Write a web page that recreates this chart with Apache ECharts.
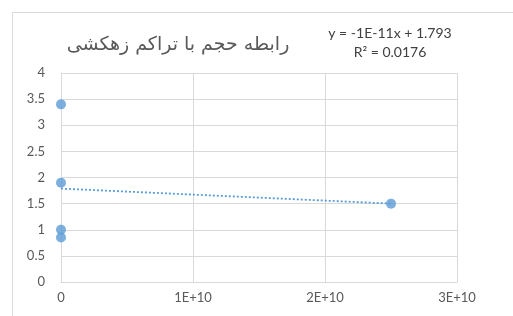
<!DOCTYPE html>
<html>
<head>
<meta charset="utf-8">
<script src="https://cdn.jsdelivr.net/npm/echarts@6/dist/echarts.min.js"></script>
<style>
  html, body { margin: 0; padding: 0; background: #fff; }
  #chart { width: 513px; height: 316px; }
</style>
</head>
<body>
<div id="chart"></div>
<script>
// volume (x) vs drainage density (y)
const volumeValues = [0, 0, 0, 0, 2.5e10]
const densityValues = [3.4, 1.9, 1.0, 0.85, 1.5]
const xTicks = [0, 1e10, 2e10, 3e10]
const yTicks = [0, 0.5, 1, 1.5, 2, 2.5, 3, 3.5, 4]
const titleText = 'رابطه حجم با تراکم زهکشی'
const equationText = 'y = -1E-11x + 1.793'
const r2Text = 'R² = 0.0176'

const points = volumeValues.map((v, i) => [v, densityValues[i]])

// least squares trend line from the points
const n = points.length
const mx = volumeValues.reduce((a, b) => a + b, 0) / n
const my = densityValues.reduce((a, b) => a + b, 0) / n
let sxy = 0
let sxx = 0
points.forEach(([x, y]) => {
  sxy += (x - mx) * (y - my)
  sxx += (x - mx) * (x - mx)
})
const slope = sxy / sxx
const intercept = my - slope * mx
const xMin = Math.min(...volumeValues)
const xMax = Math.max(...volumeValues)
const trend = [[xMin, intercept + slope * xMin], [xMax, intercept + slope * xMax]]

const formatSci = (v) => {
  if (v === 0) return '0'
  const e = Math.floor(Math.log10(Math.abs(v)))
  const m = Math.round(v / Math.pow(10, e))
  return `${m}E+${e}`
}

const chart = echarts.init(document.getElementById('chart'))
chart.setOption({
  animation: false,
  textStyle: { fontFamily: 'Lato, "Open Sans", sans-serif' },
  graphic: [
    {
      type: 'rect',
      shape: { x: 12.5, y: 12.5, width: 600, height: 400 },
      style: { fill: 'none', stroke: '#d9d9d9', lineWidth: 1 },
      silent: true
    },
    {
      type: 'text',
      x: 178,
      y: 45,
      style: {
        text: titleText,
        fontFamily: '"DejaVu Sans", sans-serif',
        fontSize: 19,
        fill: '#595959',
        align: 'center',
        verticalAlign: 'middle'
      }
    },
    {
      type: 'text',
      x: 390,
      y: 33,
      style: {
        text: equationText,
        fontFamily: 'Lato, "Open Sans", sans-serif',
        fontSize: 14,
        fill: '#404040',
        align: 'center',
        verticalAlign: 'middle'
      }
    },
    {
      type: 'text',
      x: 390,
      y: 52,
      style: {
        text: r2Text,
        fontFamily: 'Lato, "Open Sans", sans-serif',
        fontSize: 14,
        fill: '#404040',
        align: 'center',
        verticalAlign: 'middle'
      }
    }
  ],
  grid: { left: 61, right: 56, top: 73, bottom: 34 },
  xAxis: {
    type: 'value',
    min: xTicks[0],
    max: xTicks[xTicks.length - 1],
    interval: xTicks[1] - xTicks[0],
    axisLine: { show: true, lineStyle: { color: '#d9d9d9' } },
    axisTick: { show: false },
    axisLabel: { color: '#595959', fontSize: 13, margin: 9, formatter: formatSci },
    splitLine: { show: true, lineStyle: { color: '#d9d9d9' } }
  },
  yAxis: {
    type: 'value',
    min: yTicks[0],
    max: yTicks[yTicks.length - 1],
    interval: yTicks[1] - yTicks[0],
    axisLine: { show: true, lineStyle: { color: '#d9d9d9' } },
    axisTick: { show: false },
    axisLabel: { color: '#595959', fontSize: 13, margin: 16 },
    splitLine: { show: true, lineStyle: { color: '#d9d9d9' } }
  },
  series: [
    {
      name: 'trend',
      type: 'line',
      data: trend,
      symbol: 'none',
      silent: true,
      lineStyle: { color: '#5b9bd5', width: 1.8, type: [2, 2] },
      z: 2
    },
    {
      name: 'points',
      type: 'scatter',
      data: points,
      symbol: 'circle',
      symbolSize: 10,
      itemStyle: { color: '#5b9bd5' },
      z: 3
    }
  ]
})
</script>
</body>
</html>
